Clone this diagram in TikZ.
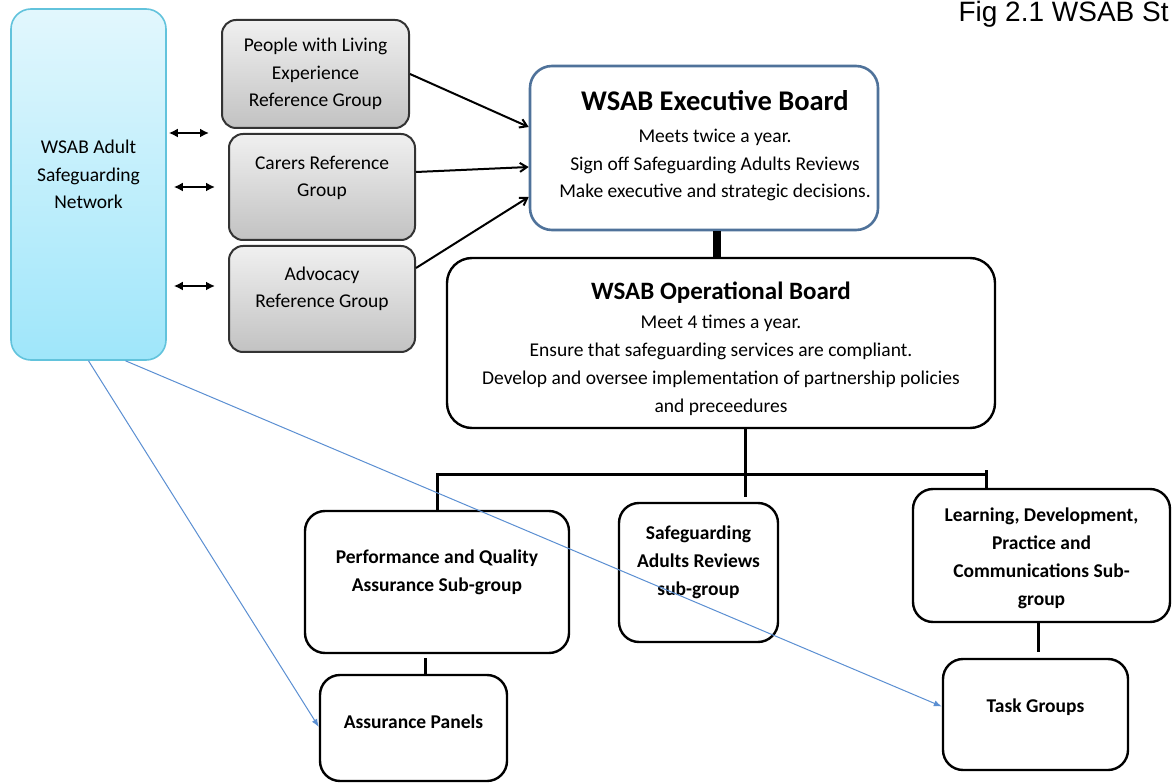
\documentclass[tikz,border=0pt]{standalone}
\usepackage{fontspec}
\setmainfont{Carlito}
\newfontfamily\figfont{Liberation Sans}
\usetikzlibrary{arrows.meta, positioning}

\definecolor{netTop}{HTML}{E2F7FD}
\definecolor{netBot}{HTML}{9FE6FA}
\definecolor{netEdge}{HTML}{62C3DC}
\definecolor{grpTop}{HTML}{F0F0F0}
\definecolor{grpBot}{HTML}{C2C2C2}
\definecolor{execEdge}{HTML}{4F729A}
\definecolor{webBlue}{HTML}{5B8FD2}

\begin{document}
\begin{tikzpicture}[x=1pt,y=-1pt,font=\fontsize{19.5}{27.5}\selectfont]

	\tikzset{box/.style={draw=black, line width=2.4pt, rounded corners=20pt,
			fill=white, align=center, inner sep=0pt}}
	\tikzset{net box/.style={box, draw=netEdge, line width=1.6pt,
			top color=netTop, bottom color=netBot}}
	\tikzset{ref grp/.style={box, draw=black!80, line width=2pt, rounded corners=14pt,
			top color=grpTop, bottom color=grpBot,
			minimum width=186pt, minimum height=106pt}}
	\tikzset{caption/.style={align=center, inner sep=0pt}}
	\tikzset{sub caption/.style={caption, font=\fontsize{19.5}{28}\selectfont\bfseries}}
	\tikzset{tree/.style={draw=black, line width=3pt}}
	\tikzset{feed/.style={draw=black, line width=2pt, -{Straight Barb[length=7pt,width=9pt]}}}
	\tikzset{both ways/.style={draw=black, line width=2.2pt,
			{Latex[length=9pt,width=9pt]}-{Latex[length=9pt,width=9pt]}}}
	\tikzset{web/.style={draw=webBlue, line width=1pt, -{Latex[length=8pt,width=6pt]}}}

	\path[use as bounding box, fill=white] (0,0) rectangle (1172,783);

	\node[anchor=base west, font=\figfont\fontsize{28}{32}\selectfont] (fig) at (955,22) {Fig 2.1 WSAB St};

	% network column and reference groups
	\node[net box, minimum width=155pt, minimum height=351pt] (net) at (88.5,184.5) {};
	\node[caption] (net-t) at ([yshift=10pt]net.center) {WSAB Adult\\Safeguarding\\Network};

	\node[ref grp, minimum width=187pt, minimum height=108pt] (ple) at (315.5,74)
		{People with Living\\Experience\\Reference Group};
	\node[ref grp, below=4pt of ple, xshift=6.5pt] (car) {};
	\node[caption] (car-t) at ([yshift=9pt]car.center) {Carers Reference\\Group};
	\node[ref grp, below=4pt of car] (adv) {};
	\node[caption] (adv-t) at ([yshift=10pt]adv.center) {Advocacy\\Reference Group};

	% boards
	\node[box, draw=execEdge, line width=2.6pt, rounded corners=22pt,
		minimum width=348pt, minimum height=164pt] (exec) at (704,148) {};
	\node[caption] (exec-t) at ([xshift=11pt,yshift=2.5pt]exec.center)
		{{\fontsize{28.5}{34}\selectfont\bfseries WSAB Executive Board}\\[5pt]
		 Meets twice a year.\\
		 Sign off Safeguarding Adults Reviews\\
		 Make executive and strategic decisions.};

	\node[box, rounded corners=25pt, minimum width=548pt, minimum height=170pt] (op) at (721,343) {};
	\node[caption, font=\fontsize{19.5}{28}\selectfont] (op-t) at ([yshift=-6pt]op.center)
		{{\fontsize{25}{30}\selectfont\bfseries WSAB Operational Board}\\[1pt]
		 Meet 4 times a year.\\
		 Ensure that safeguarding services are compliant.\\
		 Develop and oversee implementation of partnership policies\\
		 and preceedures};

	% sub-groups
	\node[box, minimum width=264pt, minimum height=142pt] (pqa) at (437,582) {};
	\node[sub caption] (pqa-t) at ([yshift=10pt]pqa.center) {Performance and Quality\\Assurance Sub-group};

	\node[box, minimum width=159pt, minimum height=139pt] (sar) at (698.5,572.5) {};
	\node[sub caption] (sar-t) at ([yshift=10pt]sar.center) {Safeguarding\\Adults Reviews\\sub-group};

	\node[box, minimum width=257pt, minimum height=133pt] (ld) at (1041.5,555.5) {};
	\node[sub caption] (ld-t) at ([yshift=-3pt]ld.center)
		{Learning, Development,\\Practice and\\Communications Sub-\\group};

	\node[box, minimum width=187pt, minimum height=106pt] (asr) at (413.5,728) {};
	\node[sub caption] (asr-t) at ([yshift=6pt]asr.center) {Assurance Panels};

	\node[box, minimum width=185pt, minimum height=111pt] (task) at (1035.5,714.5) {};
	\node[sub caption] (task-t) at ([yshift=7.5pt]task.center) {Task Groups};

	% links
	\coordinate (hub) at ([xshift=24pt,yshift=-45pt]op.south);
	\coordinate (ld-in) at ([xshift=-55.5pt]ld.north);
	\coordinate (a3) at ([yshift=13pt]adv.west);

	\draw[both ways, shorten <=2pt] (net.east |- car.north) -- ([xshift=-19pt]car.north west);
	\draw[both ways, shorten <=7pt, shorten >=13pt] (net.east |- car) -- (car.west);
	\draw[both ways, shorten <=7pt, shorten >=13pt] (net.east |- a3) -- (a3);

	\draw[feed] (ple.east) -- ([yshift=21pt]exec.west);
	\draw[feed] ([yshift=15pt]car.east) -- ([yshift=-19pt]exec.west);
	\draw[feed] ([yshift=31pt]adv.east) -- ([yshift=-49pt]exec.west);

	\draw[draw=black, line width=8pt] ([xshift=13pt]exec.south) -- ([xshift=13pt]exec.south |- op.north);

	\draw[tree] ([xshift=24pt]op.south) -- ([yshift=-23pt]hub);
	\draw[tree] (pqa.north) |- (ld-in |- hub) -- (ld-in);
	\draw[tree] ([yshift=4pt]ld-in |- hub) -- (ld-in |- hub);
	\draw[tree] ([xshift=-12pt,yshift=-4pt]pqa.south) -- ([xshift=-12pt]pqa.south |- asr.north);
	\draw[tree, shorten >=6pt] ([xshift=-3.5pt]ld.south) -- ([xshift=-3.5pt]ld.south |- task.north);

	\draw[web] (net.south) -- ([yshift=1pt]asr.west);
	\draw[web] ([xshift=37pt]net.south) -- ([yshift=8pt]task.west);
\end{tikzpicture}
\end{document}
